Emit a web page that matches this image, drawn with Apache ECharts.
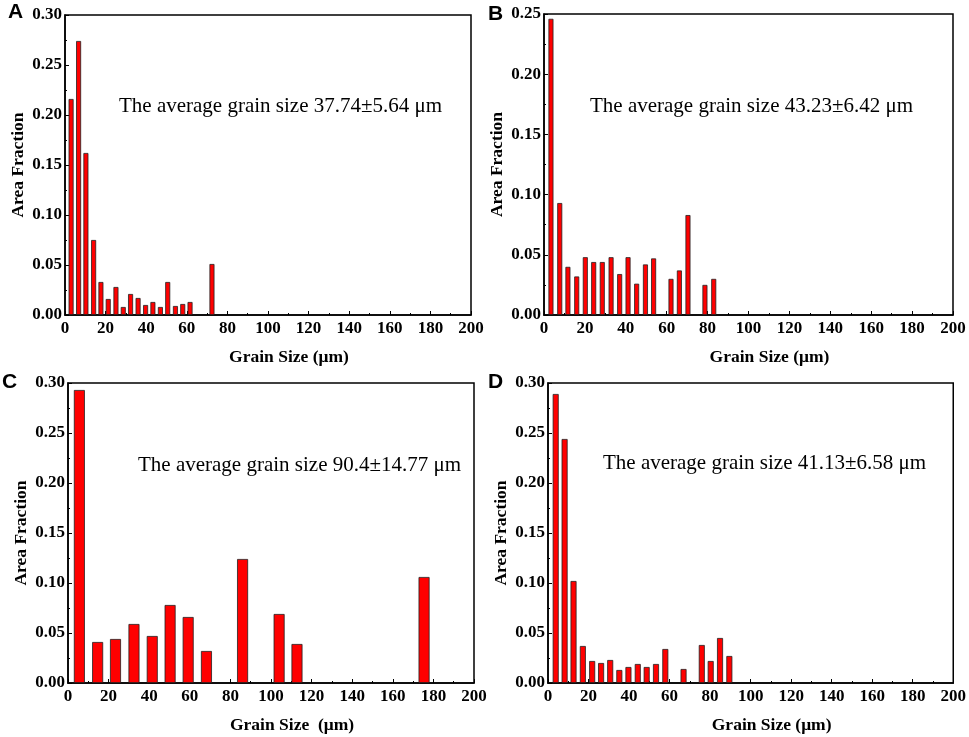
<!DOCTYPE html>
<html>
<head>
<meta charset="utf-8">
<script src="https://cdn.jsdelivr.net/npm/echarts@6/dist/echarts.min.js"></script>
<style>
  html, body { margin: 0; padding: 0; background: #fff; }
  #chart { width: 969px; height: 737px; }
</style>
</head>
<body>
<div id="chart"></div>
<script>
// grain size bins (um) and area fraction
const sizeA = [3, 6.7, 10.3, 14.1, 17.7, 21.3, 25.1, 28.7, 32.3, 36, 39.7, 43.3, 47, 50.6, 54.4, 58, 61.6, 72.4];
const fracA = [0.216, 0.274, 0.162, 0.075, 0.033, 0.016, 0.028, 0.008, 0.021, 0.017, 0.010, 0.013, 0.008, 0.033, 0.009, 0.011, 0.013, 0.051];

const sizeB = [3.4, 7.7, 11.7, 16, 20.2, 24.3, 28.5, 32.8, 37, 41.1, 45.3, 49.6, 53.6, 62.1, 66.2, 70.4, 78.7, 83];
const fracB = [0.246, 0.093, 0.040, 0.032, 0.048, 0.044, 0.044, 0.048, 0.034, 0.048, 0.026, 0.042, 0.047, 0.030, 0.037, 0.083, 0.025, 0.030];

const sizeC = [5.6, 14.6, 23.4, 32.5, 41.5, 50.3, 59.2, 68.2, 86, 104, 112.8, 175.4];
const fracC = [0.293, 0.041, 0.044, 0.059, 0.047, 0.078, 0.066, 0.032, 0.124, 0.069, 0.039, 0.106];

const sizeD = [3.8, 8.2, 12.6, 17.2, 21.8, 26.2, 30.7, 35.2, 39.7, 44.3, 48.7, 53.3, 57.9, 66.9, 75.9, 80.3, 84.9, 89.5];
const fracD = [0.289, 0.244, 0.102, 0.037, 0.022, 0.020, 0.023, 0.013, 0.016, 0.019, 0.016, 0.019, 0.034, 0.014, 0.038, 0.022, 0.045, 0.027];

const yMax = [0.30, 0.25, 0.30, 0.30];
const panelLabels = ['A', 'B', 'C', 'D'];
const notes = [
    'The average grain size 37.74±5.64 μm',
    'The average grain size 43.23±6.42 μm',
    'The average grain size 90.4±14.77 μm',
    'The average grain size 41.13±6.58 μm'
];
const xNames = ['Grain Size (μm)', 'Grain Size (μm)', 'Grain Size  (μm)', 'Grain Size (μm)'];

const panels = [
    { size: sizeA, frac: fracA, width: 5 },
    { size: sizeB, frac: fracB, width: 5 },
    { size: sizeC, frac: fracC, width: 11 },
    { size: sizeD, frac: fracD, width: 6 }
];

const grids = [
    { left: 65, top: 15, width: 406, height: 300 },
    { left: 544, top: 14, width: 409, height: 301 },
    { left: 68, top: 383, width: 406, height: 300 },
    { left: 548, top: 383, width: 407, height: 300 }
];

const serif = 'Liberation Serif, Times New Roman, serif';

const chart = echarts.init(document.getElementById('chart'));

const option = {
    animation: false,
    backgroundColor: '#fff',
    grid: grids.map(g => Object.assign({
        show: true,
        borderColor: '#000',
        borderWidth: 1.5,
        backgroundColor: 'transparent'
    }, g)),
    xAxis: grids.map((g, i) => ({
        type: 'value',
        gridIndex: i,
        min: 0,
        max: 200,
        interval: 20,
        name: xNames[i],
        nameLocation: 'middle',
        nameGap: 33,
        nameTextStyle: {
            fontFamily: serif,
            fontWeight: 'bold',
            fontSize: 17.5,
            color: '#000',
            padding: [0, 0, 0, 42]
        },
        axisLine: { lineStyle: { color: '#000', width: 1.5 } },
        axisTick: { inside: true, length: 4, lineStyle: { color: '#000' } },
        minorTick: { show: true, splitNumber: 2, length: 2, lineStyle: { color: '#000' } },
        axisLabel: {
            fontFamily: serif,
            fontWeight: 'bold',
            fontSize: 17,
            color: '#000',
            margin: 5
        },
        splitLine: { show: false }
    })),
    yAxis: grids.map((g, i) => ({
        type: 'value',
        gridIndex: i,
        min: 0,
        max: yMax[i],
        interval: 0.05,
        name: 'Area Fraction',
        nameLocation: 'middle',
        nameGap: 38,
        nameTextStyle: {
            fontFamily: serif,
            fontWeight: 'bold',
            fontSize: 17.5,
            color: '#000'
        },
        axisLine: { lineStyle: { color: '#000', width: 1.5 } },
        axisTick: { inside: true, length: 4, lineStyle: { color: '#000' } },
        minorTick: { show: true, splitNumber: 2, length: 2, lineStyle: { color: '#000' } },
        axisLabel: {
            fontFamily: serif,
            fontWeight: 'bold',
            fontSize: 17,
            color: '#000',
            margin: 3,
            formatter: v => v.toFixed(2)
        },
        splitLine: { show: false }
    })),
    series: panels.map((p, i) => ({
        type: 'bar',
        xAxisIndex: i,
        yAxisIndex: i,
        barWidth: p.width,
        data: p.size.map((s, k) => [s, p.frac[k]]),
        itemStyle: { color: '#ff0000', borderColor: '#222', borderWidth: 0.8 }
    })),
    graphic: [
        ...panelLabels.map((t, i) => ({
            type: 'text',
            left: [8, 488, 2, 488][i],
            top: [2, 4, 372, 372][i],
            style: {
                text: t,
                font: 'bold 21px Liberation Sans, Arial, sans-serif',
                fill: '#000'
            }
        })),
        ...notes.map((t, i) => ({
            type: 'text',
            left: [119, 590, 138, 603][i],
            top: [96, 96, 455, 453][i],
            style: {
                text: t,
                font: '21px ' + serif,
                fill: '#000'
            }
        }))
    ]
};

chart.setOption(option);
</script>
</body>
</html>
